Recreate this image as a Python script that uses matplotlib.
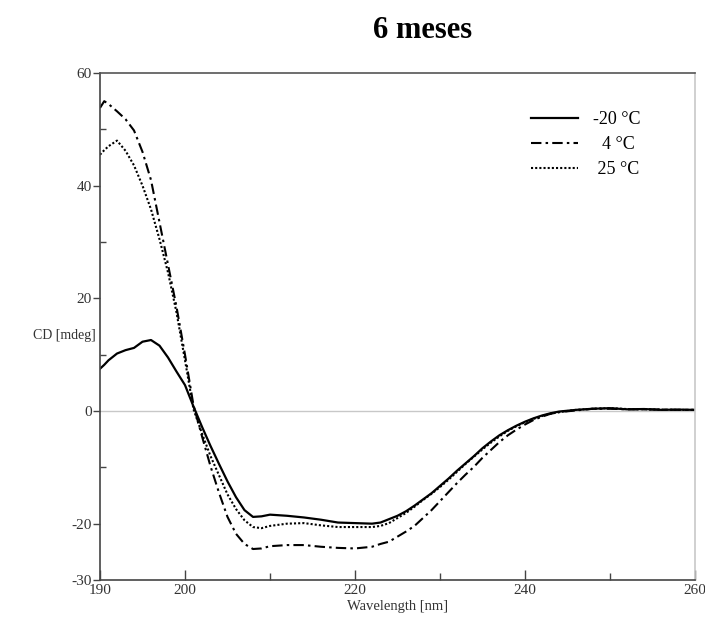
import matplotlib
matplotlib.use("Agg")
import matplotlib.pyplot as plt

plt.rcParams['font.family'] = ['Liberation Serif', 'DejaVu Serif']
plt.rcParams['axes.unicode_minus'] = False

# wavelength grid (nm)
wavelength = [190, 190.5, 191, 192, 193, 194, 195, 196, 197, 198, 199, 200,
              201, 202, 203, 204, 205, 206, 207, 208, 209, 210, 212, 214,
              216, 218, 220, 222, 223, 224, 225, 226, 227, 228, 229, 230,
              231, 232, 233, 234, 235, 236, 237, 238, 239, 240, 241, 242,
              243, 244, 246, 248, 250, 252, 254, 256, 258, 260]

cd_minus20 = [7.5, 8.2, 9.0, 10.2, 10.8, 11.2, 12.3, 12.6, 11.6, 9.5, 7.0, 4.6,
              0.8, -2.8, -6.2, -9.4, -12.5, -15.3, -17.6, -18.8, -18.7, -18.4, -18.6, -18.9,
              -19.3, -19.8, -19.9, -20.0, -19.8, -19.2, -18.6, -17.8, -16.8, -15.7, -14.6, -13.3,
              -12.0, -10.6, -9.3, -8.0, -6.6, -5.4, -4.3, -3.4, -2.6, -1.9, -1.3, -0.8,
              -0.4, -0.1, 0.2, 0.4, 0.5, 0.3, 0.35, 0.2, 0.25, 0.2]

cd_4 = [53.8, 55.0, 54.5, 53.2, 51.8, 49.8, 46.0, 41.0, 33.5, 26.0, 18.5, 10.0,
        1.0, -4.5, -9.8, -14.5, -18.8, -21.8, -23.6, -24.5, -24.4, -24.0, -23.8, -23.8,
        -24.1, -24.3, -24.4, -24.1, -23.6, -23.2, -22.3, -21.4, -20.4, -19.0, -17.6, -16.0,
        -14.4, -12.8, -11.3, -9.9, -8.3, -6.9, -5.5, -4.3, -3.3, -2.4, -1.6, -1.0,
        -0.5, -0.2, 0.1, 0.4, 0.4, 0.3, 0.3, 0.25, 0.2, 0.2]

cd_25 = [45.5, 46.3, 47.0, 48.0, 46.2, 43.6, 40.0, 35.8, 30.5, 24.6, 17.5, 9.0,
         0.3, -4.0, -8.0, -11.4, -14.8, -17.4, -19.4, -20.6, -20.8, -20.4, -20.0, -19.9,
         -20.3, -20.6, -20.6, -20.6, -20.4, -19.9, -19.0, -18.1, -17.0, -15.8, -14.7, -13.5,
         -12.2, -10.8, -9.4, -8.1, -6.8, -5.6, -4.5, -3.5, -2.7, -2.0, -1.4, -0.9,
         -0.5, -0.2, 0.2, 0.4, 0.5, 0.35, 0.3, 0.25, 0.2, 0.2]

labels = ["-20 °C", "  4 °C", " 25 °C"]

fig = plt.figure(figsize=(7.05, 6.24), dpi=100)
ax = fig.add_axes([100 / 705, 1 - 580 / 624, 595 / 705, 507 / 624])

ax.axhline(0, color="#c8c8c8", lw=1.0, zorder=1)

ax.plot(wavelength, cd_minus20, color="black", lw=1.6, ls="-", label=labels[0])
ax.plot(wavelength, cd_4, color="black", lw=1.5, ls=(0, (5, 2, 1.2, 2)), label=labels[1])
ax.plot(wavelength, cd_25, color="black", lw=1.5, ls=(0, (1, 1)), label=labels[2])

ax.set_xlim(190, 260)
ax.set_ylim(-30, 60)

ax.set_xticks([190, 200, 220, 240, 260])
ax.set_xticks([210, 230, 250], minor=True)
ax.set_yticks([-30, -20, 0, 20, 40, 60])
ax.set_yticks([-10, 10, 30, 50], minor=True)

ax.tick_params(axis="x", which="major", direction="in", length=7, width=1,
               color="#444444", labelsize=11, labelcolor="#333333", pad=3)
ax.tick_params(axis="x", which="minor", direction="in", length=5, width=1, color="#444444")
ax.tick_params(axis="y", which="major", direction="out", length=5, width=1,
               color="#444444", labelsize=11, labelcolor="#333333", pad=1)
ax.tick_params(axis="y", which="minor", direction="in", length=4, width=1, color="#444444")

for side, col in [("left", "#444444"), ("bottom", "#444444"), ("top", "#555555"), ("right", "#c8c8c8")]:
    ax.spines[side].set_color(col)
    ax.spines[side].set_linewidth(1.2)

ax.set_xlabel("Wavelength [nm]", fontsize=10.5, color="#333333", labelpad=2)
fig.text(33 / 705, 1 - 336 / 624, "CD [mdeg]", fontsize=10, color="#333333",
         ha="left", va="center")

fig.text(423 / 705, 1 - 31 / 624, "6 meses", fontsize=22, fontweight="bold",
         ha="center", va="center")

ax.legend(loc="upper right", bbox_to_anchor=(0.935, 0.957), frameon=False,
          fontsize=13, handlelength=2.6, handletextpad=0.8, labelspacing=0.45)

fig.savefig("out.png", dpi=100)
